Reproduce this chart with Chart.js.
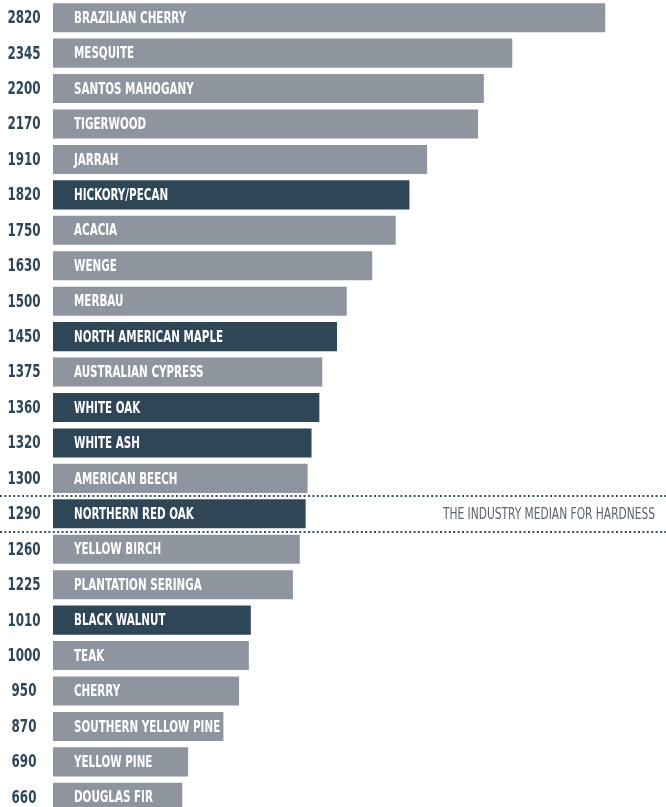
<!DOCTYPE html>
<html>
<head>
<meta charset="utf-8">
<script src="https://cdn.jsdelivr.net/npm/chart.js@4/dist/chart.umd.min.js"></script>
<style>
  html,body{margin:0;padding:0;background:#fff;overflow:hidden;}
  #wrap{position:relative;width:666px;height:815px;}
</style>
</head>
<body>
<div id="wrap"><canvas id="hardness"></canvas></div>
<script>
const woods = ['Brazilian Cherry','Mesquite','Santos Mahogany','Tigerwood','Jarrah','Hickory/Pecan','Acacia','Wenge','Merbau','North American Maple','Australian Cypress','White Oak','White Ash','American Beech','Northern Red Oak','Yellow Birch','Plantation Seringa','Black Walnut','Teak','Cherry','Southern Yellow Pine','Yellow Pine','Douglas Fir'];
const hardness = [2820,2345,2200,2170,1910,1820,1750,1630,1500,1450,1375,1360,1320,1300,1290,1260,1225,1010,1000,950,870,690,660];
const highlighted = ['Hickory/Pecan','North American Maple','White Oak','White Ash','Northern Red Oak','Black Walnut'];
const medianWood = 'Northern Red Oak';
const medianNote = 'THE INDUSTRY MEDIAN FOR HARDNESS';

const GREY = '#8f959f', DARK = '#2f4657';
const FONT = "'DejaVu Sans Condensed','DejaVu Sans',sans-serif";

// squeezed text, to get close to the narrow display face of the original
function narrowText(ctx, txt, x, y, sx, align){
  ctx.save();
  ctx.translate(x, y);
  ctx.scale(sx, 1);
  ctx.textAlign = align;
  ctx.fillText(txt, 0, 0);
  ctx.restore();
}

// hardness values at left, wood names inside bars, and the median band
const labelsPlugin = {
  id:'labelsPlugin',
  afterDatasetsDraw(chart){
    const {ctx} = chart;
    const y = chart.scales.y;
    const meta = chart.getDatasetMeta(0);
    ctx.save();
    ctx.textBaseline = 'middle';
    meta.data.forEach((bar,i)=>{
      ctx.font = `bold 16px ${FONT}`;
      ctx.fillStyle = '#fff';
      narrowText(ctx, woods[i].toUpperCase(), bar.base + 21, bar.y + 1, 0.72, 'left');
      ctx.font = `bold 17px ${FONT}`;
      ctx.fillStyle = DARK;
      narrowText(ctx, String(hardness[i]), y.left + 24, bar.y + 1, 0.78, 'center');
    });
    const mi = woods.indexOf(medianWood);
    const step = y.getPixelForValue(1) - y.getPixelForValue(0);
    const yc = y.getPixelForValue(mi);
    ctx.strokeStyle = '#3d5262';
    ctx.lineWidth = 1.8;
    ctx.setLineDash([2,2.4]);
    [yc - step/2, yc + step/2].forEach(py=>{
      ctx.beginPath();
      ctx.moveTo(0, Math.round(py)); ctx.lineTo(chart.width, Math.round(py));
      ctx.stroke();
    });
    ctx.setLineDash([]);
    ctx.font = `15px ${FONT}`;
    ctx.fillStyle = '#5d646e';
    narrowText(ctx, medianNote, 655, yc + 1, 0.79, 'right');
    ctx.restore();
  }
};

new Chart(document.getElementById('hardness'), {
  type:'bar',
  data:{
    labels: woods,
    datasets:[{
      data: hardness,
      backgroundColor: woods.map(w => highlighted.includes(w) ? DARK : GREY),
      barPercentage: 0.82,
      categoryPercentage: 1
    }]
  },
  options:{
    indexAxis:'y',
    responsive:true, maintainAspectRatio:false, animation:false,
    layout:{padding:0},
    plugins:{legend:{display:false}, tooltip:{enabled:false}},
    scales:{
      x:{display:false, min:0, max:3130},
      y:{
        grid:{display:false, drawTicks:false}, border:{display:false},
        ticks:{display:false},
        afterFit(s){ s.width = 53; }
      }
    }
  },
  plugins:[labelsPlugin]
});
</script>
</body>
</html>
